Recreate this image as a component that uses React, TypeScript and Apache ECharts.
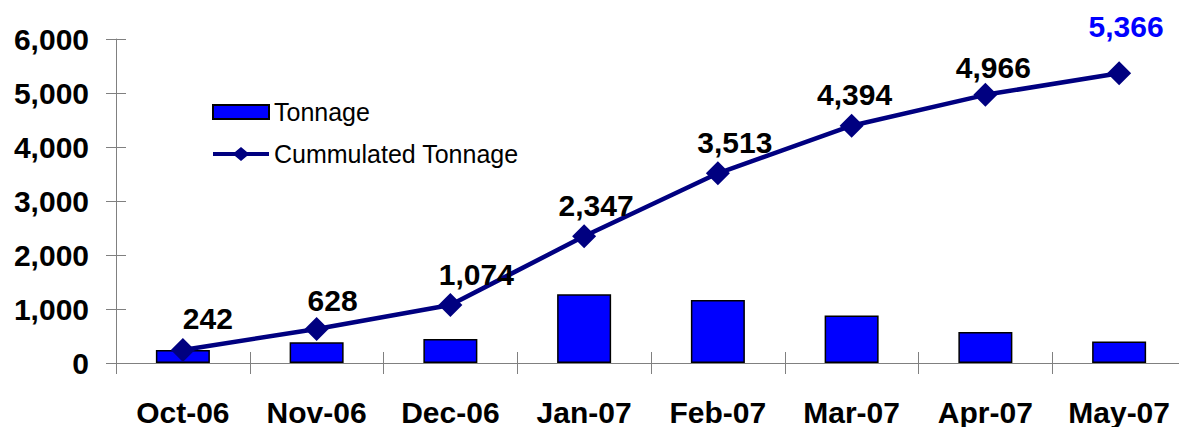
import React, { useEffect, useRef } from "react";
import * as echarts from "echarts";

const categories = ["Oct-06", "Nov-06", "Dec-06", "Jan-07", "Feb-07", "Mar-07", "Apr-07", "May-07"];
const tonnage = [242, 386, 446, 1273, 1166, 881, 572, 400];
const cumulated = [242, 628, 1074, 2347, 3513, 4394, 4966, 5366];
const yTicks = { min: 0, max: 6000, interval: 1000 };
const labelDx = [25, 16, 26, 12, 17, 3, 8, 7];
const labelDy = [0, 2, 0, 0, 0, 0, 4, -16];
const labelColors = ["#000", "#000", "#000", "#000", "#000", "#000", "#000", "#0000FF"];

const FONT = "Arial, 'Liberation Sans', sans-serif";
const LINE_ICON = "path://M0,5 L22,5 L28,0 L34,5 L56,5 L56,9 L34,9 L28,14 L22,9 L0,9 Z";

export default function App() {
  const ref = useRef<HTMLDivElement>(null);
  useEffect(() => {
    document.body.style.margin = "0";
    const chart = echarts.init(ref.current!, null, { renderer: "svg" });
    const fmt = (v: number) => v.toLocaleString("en-US");
    const grid = { left: 116, top: 39, width: 1070, height: 324 };
    const axisLine = { lineStyle: { color: "#808080", width: 1 } };
    chart.setOption({
      animation: false,
      backgroundColor: "#fff",
      textStyle: { fontFamily: FONT },
      grid,
      legend: {
        orient: "vertical",
        left: 207,
        top: 93,
        itemWidth: 56,
        itemHeight: 14,
        itemGap: 14,
        selectedMode: false,
        textStyle: { fontFamily: FONT, fontSize: 25, color: "#000", lineHeight: 28 },
        data: [
          { name: "Tonnage", icon: "rect" },
          { name: "Cummulated Tonnage", icon: LINE_ICON, itemStyle: { color: "#000080", borderWidth: 0 } },
        ],
      },
      xAxis: [
        {
          type: "category",
          data: categories,
          boundaryGap: true,
          axisLine,
          axisTick: { show: true, length: 11, lineStyle: { color: "#808080" } },
          axisLabel: {
            fontFamily: FONT,
            fontSize: 30,
            lineHeight: 26,
            fontWeight: "bold",
            color: "#000",
            margin: 36,
            interval: 0,
          },
          splitLine: { show: false },
        },
        {
          type: "category",
          data: categories,
          position: "bottom",
          boundaryGap: true,
          axisLine: { show: false },
          axisTick: { show: true, inside: true, length: 11, lineStyle: { color: "#808080" } },
          axisLabel: { show: false },
          splitLine: { show: false },
        },
      ],
      yAxis: [
        {
          type: "value",
          ...yTicks,
          axisLine: { show: true, ...axisLine },
          axisTick: { show: true, length: 10, lineStyle: { color: "#808080" } },
          axisLabel: { fontFamily: FONT, fontSize: 30, fontWeight: "bold", color: "#000", margin: 27, formatter: fmt },
          splitLine: { show: false },
        },
        {
          type: "value",
          ...yTicks,
          position: "left",
          axisLine: { show: false },
          axisTick: { show: true, inside: true, length: 10, lineStyle: { color: "#808080" } },
          axisLabel: { show: false },
          splitLine: { show: false },
        },
      ],
      series: [
        {
          name: "Tonnage",
          type: "bar",
          data: tonnage,
          barWidth: 54,
          itemStyle: { color: "#0000FF", borderColor: "#000", borderWidth: 1.5 },
        },
        {
          name: "Cummulated Tonnage",
          type: "line",
          data: cumulated.map((v, i) => ({
            value: v,
            label: { offset: [labelDx[i], labelDy[i]], color: labelColors[i] },
          })),
          symbol: "diamond",
          symbolSize: 24,
          z: 5,
          lineStyle: { color: "#000080", width: 4.5 },
          itemStyle: { color: "#000080" },
          label: {
            show: true,
            position: "top",
            distance: 4,
            fontFamily: FONT,
            fontSize: 30,
            fontWeight: "bold",
            formatter: (p: any) => fmt(p.value),
          },
        },
      ],
    });
    return () => chart.dispose();
  }, []);
  return (
    <div style={{ width: 1179, height: 427, overflow: "hidden", position: "relative" }}>
      <div ref={ref} style={{ width: 1200, height: 427 }} />
    </div>
  );
}
